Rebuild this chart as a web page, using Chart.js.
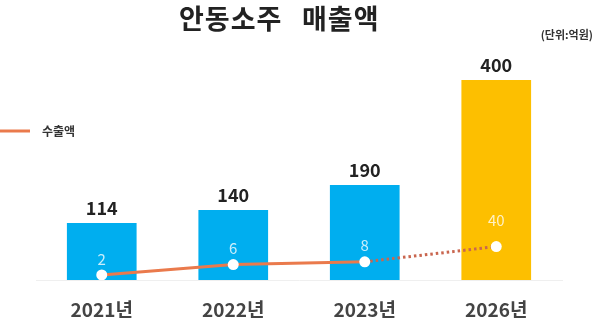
<!DOCTYPE html>
<html>
<head>
<meta charset="utf-8">
<script src="https://cdn.jsdelivr.net/npm/chart.js@4"></script>
<style>
  html, body { margin: 0; padding: 0; background: #fff; }
  canvas { display: block; }
</style>
</head>
<body>
<canvas id="myChart" width="600" height="325"></canvas>
<script>
// data
var years = ["2021년", "2022년", "2023년", "2026년"];
var sales = [114, 140, 190, 400];      // 매출액 (억원)
var exports = [2, 6, 8, 40];           // 수출액 (억원)
var barColors = ["#00aeef", "#00aeef", "#00aeef", "#fdbf00"];
var titleWords = ["안동소주", "매출액"];
var unitText = "(단위:억원)";
var lineName = "수출액";

var FONT = "'Noto Sans CJK KR', 'Noto Sans', sans-serif";
var LINE_COLOR = "#ea7a4c";

Chart.defaults.font.family = FONT;

// labels, title, unit and legend drawn on the canvas
const extras = {
  id: "extras",
  afterDatasetsDraw(chart) {
    const ctx = chart.ctx;
    ctx.save();
    ctx.textAlign = "center";
    ctx.textBaseline = "middle";

    // totals above bars
    const bars = chart.getDatasetMeta(0).data;
    ctx.fillStyle = "#222";
    ctx.font = "bold 18px " + FONT;
    bars.forEach((b, i) => {
      ctx.fillText(sales[i], b.x, b.y - 15);
    });

    // export values above points
    const pts = chart.getDatasetMeta(1).data;
    ctx.fillStyle = "rgba(255,255,255,0.78)";
    ctx.font = "15px " + FONT;
    pts.forEach((p, i) => {
      ctx.fillText(exports[i], p.x, p.y - (i == 3 ? 26 : 16));
    });

    // title (two words, wide gap as in the original)
    ctx.fillStyle = "#222";
    ctx.font = "bold 27px " + FONT;
    ctx.letterSpacing = "1px";
    ctx.textAlign = "left";
    ctx.fillText(titleWords[0], 179, 19);
    ctx.fillText(titleWords[1], 302, 19);
    ctx.letterSpacing = "0px";

    // unit
    ctx.font = "bold 11px " + FONT;
    ctx.fillStyle = "#333";
    ctx.textAlign = "right";
    ctx.fillText(unitText, 593, 35);

    // legend
    ctx.strokeStyle = LINE_COLOR;
    ctx.lineWidth = 3;
    ctx.beginPath();
    ctx.moveTo(0, 131);
    ctx.lineTo(30, 131);
    ctx.stroke();
    ctx.textAlign = "left";
    ctx.font = "bold 12px " + FONT;
    ctx.fillText(lineName, 42, 131);

    ctx.restore();
  }
};

new Chart("myChart", {
  type: "bar",
  data: {
    labels: years,
    datasets: [{
      label: "매출액",
      data: sales,
      backgroundColor: barColors,
      barPercentage: 0.53,
      categoryPercentage: 1,
      yAxisID: "y",
      order: 1
    }, {
      type: "line",
      label: lineName,
      data: exports,
      yAxisID: "y2",
      borderColor: LINE_COLOR,
      borderWidth: 3,
      pointRadius: 5.5,
      pointBackgroundColor: "#fff",
      pointBorderColor: "#fff",
      pointBorderWidth: 0,
      segment: {
        borderDash: c => c.p1DataIndex === 3 ? [2.5, 3] : undefined,
        borderColor: c => c.p1DataIndex === 3 ? "#c9664f" : undefined
      },
      order: 0
    }]
  },
  options: {
    responsive: false,
    animation: false,
    devicePixelRatio: 1,
    layout: { padding: { top: 80, left: 36, right: 38, bottom: 0 } },
    plugins: {
      legend: { display: false },
      tooltip: { enabled: false }
    },
    scales: {
      x: {
        grid: { display: false },
        border: { display: true, color: "#efefef", width: 1 },
        afterFit: axis => { axis.height = 45; },
        ticks: {
          color: "#444",
          padding: 10,
          font: { size: 19, weight: "bold" }
        }
      },
      y: {
        display: false,
        min: 0,
        max: 400
      },
      y2: {
        display: false,
        type: "logarithmic",
        min: 1.17,
        max: 1.74e9
      }
    }
  },
  plugins: [extras]
});
</script>
</body>
</html>
